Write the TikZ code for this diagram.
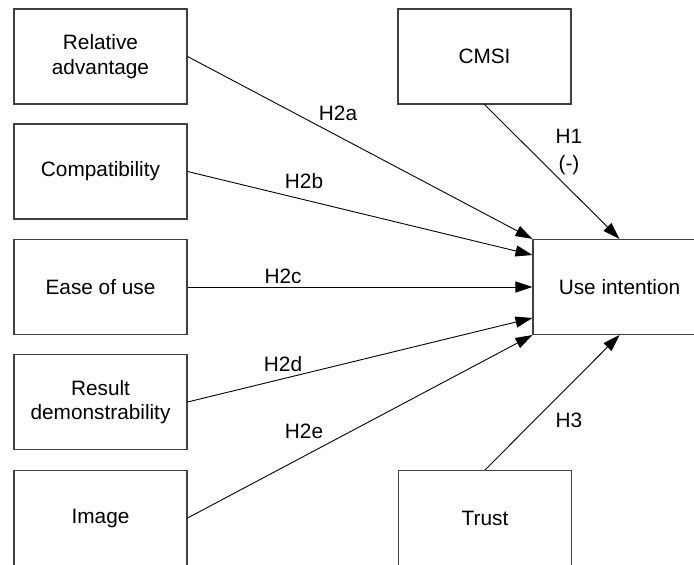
\documentclass[tikz,border=0pt]{standalone}
\usepackage{fontspec}
\setmainfont{Liberation Sans}
\usetikzlibrary{arrows.meta}
\begin{document}
\begin{tikzpicture}[x=1pt,y=-1pt,
  box/.style={draw=black!75,line width=1.1pt,fill=white,minimum width=173pt,minimum height=95pt,inner sep=0pt,align=center,font=\fontsize{20.8}{24.5}\selectfont},
  lbl/.style={inner sep=0pt,font=\fontsize{20.8}{27}\selectfont,align=center},
  arr/.style={draw=black,line width=0.9pt,-{Triangle[length=17pt,width=11pt]}}]
\clip (0,0) rectangle (694,565);
\fill[white] (0,0) rectangle (694,565);
\node[box] (ra) at (100.5,56.5) {Relative\\advantage};
\node[box] (co) at (100.5,171.5) {Compatibility};
\node[box] (eu) at (100.5,287) {Ease of use};
\node[box] (rd) at (100.5,402) {Result\\demonstrability};
\node[box] (im) at (100.5,518) {Image};
\node[box] (cm) at (484.5,56.5) {CMSI};
\node[box] (tr) at (485,518) {Trust};
\node[box] (ui) at (619.5,287) {Use intention};
\coordinate (uib) at ([yshift=32pt]ui.west);
\coordinate (uid) at ([yshift=-31pt]ui.west);
\draw[arr] (ra.east) -- (ui.north west);
\draw[arr] (co.east) -- (uib);
\draw[arr] (eu.east) -- (ui.west);
\draw[arr] (rd.east) -- (uid);
\draw[arr] (im.east) -- (ui.south west);
\draw[arr] (cm.south) -- (ui.north);
\draw[arr] (tr.north) -- (ui.south);
\node[lbl] (h2a) at (338,113) {H2a};
\node[lbl] (h2b) at (304,181) {H2b};
\node[lbl] (h2c) at (283,276) {H2c};
\node[lbl] (h2d) at (283,364) {H2d};
\node[lbl] (h2e) at (304,431) {H2e};
\node[lbl] (h1) at (569,152) {H1\\(-)};
\node[lbl] (h3) at (569,420) {H3};
\end{tikzpicture}
\end{document}
